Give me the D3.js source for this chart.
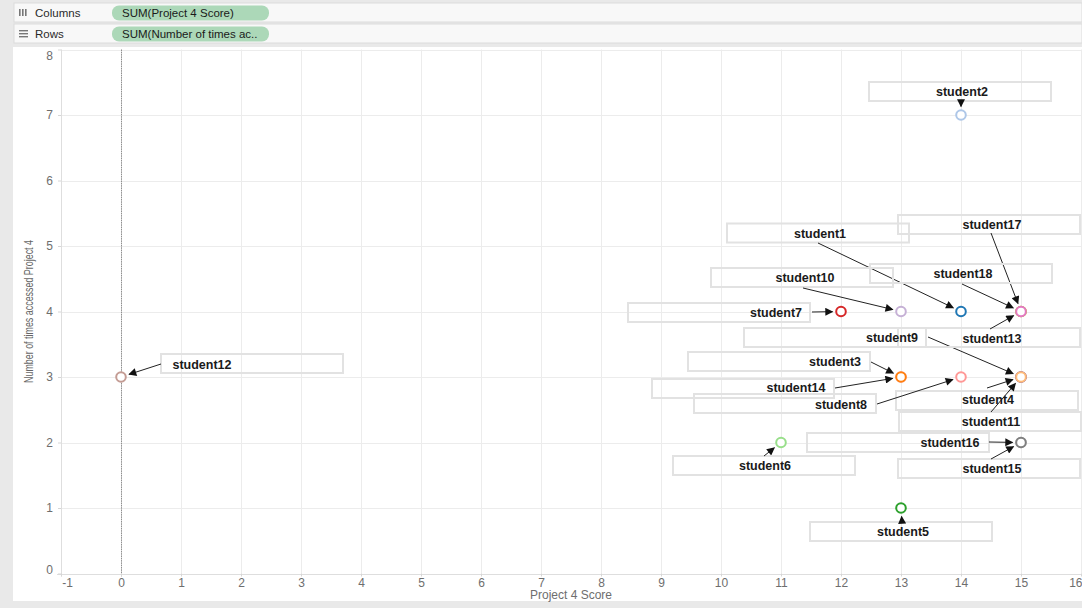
<!DOCTYPE html>
<html>
<head>
<meta charset="utf-8">
<script src="https://cdn.jsdelivr.net/npm/d3@7"></script>
<style>
  body { margin: 0; background: #e9e9e9; }
  svg { display: block; font-family: "Liberation Sans", Arial, sans-serif; }
  .grid line { stroke: #ececec; stroke-width: 1px; }
  .axis { color: #6e6e6e; }
  .axis path { display: none; }
  .axis line { stroke: #d6d6d6; }
  .axis text { fill: #6e6e6e; font-size: 12px; }
  .ann-box { fill: none; stroke: #e2e2e2; stroke-width: 2px; }
  .ann-text { font-weight: bold; font-size: 12.5px; fill: #1a1a1a; }
  .ann-arrow { stroke: #222; stroke-width: 1px; }
</style>
</head>
<body>
<svg id="chart" width="1082" height="608"></svg>
<script>
// data
let students = ["student1", "student2", "student3", "student4", "student5", "student6",
  "student7", "student8", "student9", "student10", "student11", "student12",
  "student13", "student14", "student15", "student16", "student17", "student18"];
let project4_score = [14, 14, 13, 15, 13, 11, 12, 14, 15, 13, 15, 0, 15, 13, 15, 15, 15, 15];
let times_accessed = [4, 7, 3, 3, 1, 2, 4, 3, 3, 4, 3, 3, 4, 3, 2, 2, 4, 4];
let x_ticks = [-1, 0, 1, 2, 3, 4, 5, 6, 7, 8, 9, 10, 11, 12, 13, 14, 15, 16];
let y_ticks = [0, 1, 2, 3, 4, 5, 6, 7, 8];

// colours, one per student (category 20 order)
let palette = ["#1f77b4", "#aec7e8", "#ff7f0e", "#ffbb78", "#2ca02c", "#98df8a",
  "#d62728", "#ff9896", "#9467bd", "#c5b0d5", "#8c564b", "#c49c94",
  "#e377c2", "#f7b6d2", "#7f7f7f", "#c7c7c7", "#bcbd22", "#dbdb8d"];

// annotation layout, pixel offsets from the point: box top-left, text centre, arrow start
let ann_layout = {
  student1:  {box: [-234, -88],  text: [-141, -78.5], from: [-143, -68.5]},
  student2:  {box: [-92, -33],   text: [1, -24],      from: [0, -14]},
  student3:  {box: [-213, -25],  text: [-66, -16],    from: [-30, -15]},
  student4:  {box: [-125, 14],   text: [-33, 22],     from: [-34, 11]},
  student5:  {box: [-91, 14],    text: [2, 23],       from: [1, 14]},
  student6:  {box: [-108, 13.5], text: [-16, 22.5],   from: [-17, 13.5]},
  student7:  {box: [-213, -8.5], text: [-65, 0.5],    from: [-29, 0.5]},
  student8:  {box: [-267, 17],   text: [-120, 27],    from: [-84, 27]},
  student9:  {box: [-277, -49],  text: [-129, -40],   from: [-93, -40]},
  student10: {box: [-190, -43.5],text: [-96, -34.5],  from: [-98, -23.5]},
  student11: {box: [-122, 35],   text: [-30, 44],     from: [-30, 35]},
  student12: {box: [40, -23],    text: [81, -13],     from: [40, -13]},
  student13: {box: [-123, 16.5], text: [-29, 26.5],   from: [-31, 17.5]},
  student14: {box: [-249, 2],    text: [-105, 10],    from: [-66, 11]},
  student15: {box: [-123, 16.5], text: [-29, 25.5],   from: [-30, 16.5]},
  student16: {box: [-214, -9.5], text: [-71, -0.5],   from: [-32, -0.5]},
  student17: {box: [-123, -96.5],text: [-29, -87.5],  from: [-30, -78.5]},
  student18: {box: [-151, -47.5],text: [-58, -38.5],  from: [-59, -27.5]}
};

let data = students.map(function(s, i) {
  return {name: s, x: project4_score[i], y: times_accessed[i], i: i};
});

let svg = d3.select("#chart");
let layout = {
  plot: {left: 61, right: 1081, top: 49.5, bottom: 573.5},
  box: {width: 182, height: 19},
  dot: 4.8
};

// background and the shelf rows
svg.append("rect").attr("width", 1082).attr("height", 608).attr("fill", "#e9e9e9");
let shelves = [{label: "Columns", pill: "SUM(Project 4 Score)", y: 3},
               {label: "Rows", pill: "SUM(Number of times ac..", y: 24}];
shelves.forEach(function(s, k) {
  let g = svg.append("g").attr("transform", "translate(0," + s.y + ")");
  g.append("rect").attr("x", 14).attr("y", 0).attr("width", 1068).attr("height", 19)
    .attr("fill", "#f8f8f8").attr("stroke", "#dcdcdc");
  if (k == 0) {
    for (let j = 0; j < 3; j++)
      g.append("rect").attr("x", 19 + j * 3).attr("y", 6).attr("width", 1.6).attr("height", 7).attr("fill", "#777");
  } else {
    for (let j = 0; j < 3; j++)
      g.append("rect").attr("x", 19).attr("y", 6 + j * 3).attr("width", 9).attr("height", 1.4).attr("fill", "#777");
  }
  g.append("text").attr("x", 35).attr("y", 14).style("font-size", "11.5px").attr("fill", "#2a2a2a").text(s.label);
  g.append("rect").attr("x", 112).attr("y", 2.5).attr("width", 157).attr("height", 15).attr("rx", 7)
    .attr("fill", "#acd8b8");
  g.append("text").attr("x", 122).attr("y", 14).style("font-size", "11.5px").attr("fill", "#1a1a1a").text(s.pill);
});

// chart panel
svg.append("rect").attr("x", 13).attr("y", 47).attr("width", 1069).attr("height", 554).attr("fill", "#fff");

let x = d3.scaleLinear().domain([-1, 16]).range([layout.plot.left, layout.plot.right]);
let y = d3.scaleLinear().domain([0, 8]).range([layout.plot.bottom, layout.plot.top]);

// grid
let grid = svg.append("g").attr("class", "grid");
grid.selectAll(".gx").data(x_ticks).enter().append("line")
  .attr("x1", function(d) { return Math.round(x(d)) + 0.5; })
  .attr("x2", function(d) { return Math.round(x(d)) + 0.5; })
  .attr("y1", layout.plot.top).attr("y2", layout.plot.bottom);
grid.selectAll(".gy").data(y_ticks).enter().append("line")
  .attr("y1", function(d) { return Math.round(y(d)) + 0.5; })
  .attr("y2", function(d) { return Math.round(y(d)) + 0.5; })
  .attr("x1", layout.plot.left).attr("x2", layout.plot.right);

// axis lines
svg.append("line").attr("x1", 57).attr("x2", layout.plot.right)
  .attr("y1", Math.round(y(0)) + 0.5).attr("y2", Math.round(y(0)) + 0.5).attr("stroke", "#dedede");
svg.append("line").attr("x1", Math.round(x(-1)) + 0.5).attr("x2", Math.round(x(-1)) + 0.5)
  .attr("y1", layout.plot.top).attr("y2", layout.plot.bottom + 3).attr("stroke", "#dedede");
// zero line
svg.append("line").attr("x1", Math.round(x(0)) + 0.5).attr("x2", Math.round(x(0)) + 0.5)
  .attr("y1", layout.plot.top).attr("y2", layout.plot.bottom + 3)
  .attr("stroke", "#8f8f8f").attr("stroke-dasharray", "1.5,0.8");

// axes
let fmt = function(d) { return String(d); };
let axis_x = svg.append("g").attr("class", "axis")
  .attr("transform", "translate(0," + layout.plot.bottom + ")")
  .call(d3.axisBottom(x).tickValues(x_ticks).tickSize(3).tickPadding(2).tickFormat(fmt));
axis_x.selectAll("text").filter(function(d) { return d == -1; }).attr("dx", 6);
axis_x.selectAll("text").filter(function(d) { return d == 16; }).attr("text-anchor", "end").attr("dx", 1);

let axis_y = svg.append("g").attr("class", "axis")
  .attr("transform", "translate(" + layout.plot.left + ",0)")
  .call(d3.axisLeft(y).tickValues(y_ticks).tickSize(3).tickPadding(5).tickFormat(fmt));
axis_y.selectAll("text").filter(function(d) { return d == 8; }).attr("dy", "0.8em");
axis_y.selectAll("text").filter(function(d) { return d == 0; }).attr("dy", "0em");

svg.append("text").attr("x", 571).attr("y", 599)
  .attr("text-anchor", "middle").style("font-size", "12px").attr("fill", "#6e6e6e")
  .text("Project 4 Score");
svg.append("text")
  .attr("transform", "translate(33," + ((layout.plot.top + layout.plot.bottom) / 2) + ") rotate(-90)")
  .attr("text-anchor", "middle")
  .style("font-family", "'Liberation Sans Narrow', 'Arial Narrow', sans-serif")
  .style("font-size", "12px").attr("fill", "#666")
  .attr("textLength", 143).attr("lengthAdjust", "spacingAndGlyphs")
  .text("Number of times accessed Project 4");

// arrow marker
svg.append("defs").append("marker").attr("id", "arrow")
  .attr("viewBox", "0 0 10 10").attr("refX", 9).attr("refY", 5)
  .attr("markerWidth", 10).attr("markerHeight", 8).attr("markerUnits", "userSpaceOnUse")
  .attr("orient", "auto")
  .append("path").attr("d", "M0,0 L10,5 L0,10 Z").attr("fill", "#111");

// annotations
let ann = svg.append("g");
data.forEach(function(d) {
  let a = ann_layout[d.name];
  let px = x(d.x), py = y(d.y);
  ann.append("rect").attr("class", "ann-box")
    .attr("x", px + a.box[0]).attr("y", py + a.box[1])
    .attr("width", layout.box.width).attr("height", layout.box.height);
  let sx = px + a.from[0], sy = py + a.from[1];
  let len = Math.sqrt(a.from[0] * a.from[0] + a.from[1] * a.from[1]);
  let gap = 8.5;
  ann.append("line").attr("class", "ann-arrow")
    .attr("x1", sx).attr("y1", sy)
    .attr("x2", px + a.from[0] / len * gap).attr("y2", py + a.from[1] / len * gap)
    .attr("marker-end", "url(#arrow)");
});
data.forEach(function(d) {
  let a = ann_layout[d.name];
  ann.append("text").attr("class", "ann-text")
    .attr("x", x(d.x) + a.text[0]).attr("y", y(d.y) + a.text[1] + 4.5)
    .attr("text-anchor", "middle").text(d.name);
});

// points, drawn last student first so lower numbers sit on top
let color = d3.scaleOrdinal().domain(students).range(palette);
svg.append("g").selectAll("circle").data(data.slice().reverse()).enter().append("circle")
  .attr("cx", function(d) { return x(d.x); })
  .attr("cy", function(d) { return y(d.y); })
  .attr("r", layout.dot)
  .attr("fill", "#fff")
  .attr("stroke", function(d) { return color(d.name); })
  .attr("stroke-width", 2);
</script>
</body>
</html>
